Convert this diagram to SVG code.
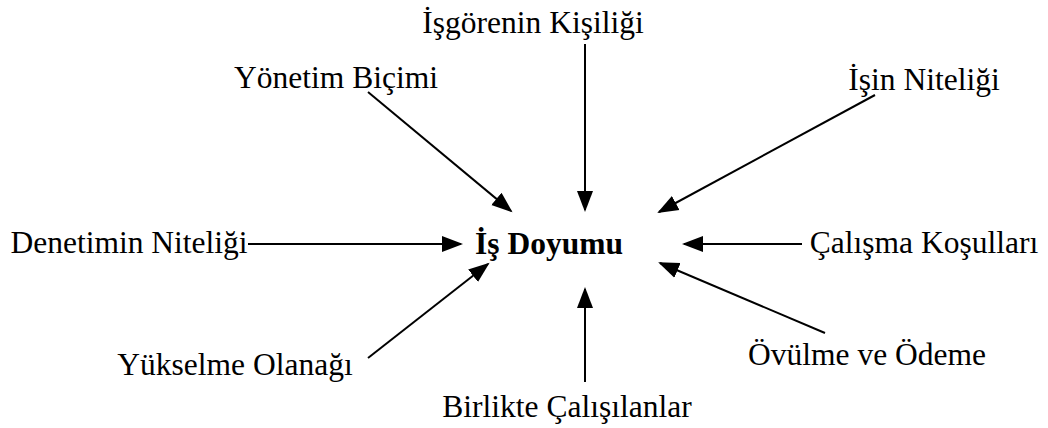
<svg xmlns="http://www.w3.org/2000/svg" width="1048" height="428" viewBox="0 0 1048 428">
<style>
.t{font-family:"Liberation Serif","Times New Roman",serif;font-size:31.5px;fill:#000}
.c{font-weight:bold}
.e{stroke:#000;stroke-width:2;fill:none;marker-end:url(#ah)}
</style>
<defs>
<marker id="ah" markerUnits="userSpaceOnUse" markerWidth="24" markerHeight="20" viewBox="0 0 24 20" refX="19" refY="10" orient="auto">
<path d="M0,2 L21,10 L0,18 Z" fill="#000"/>
</marker>
</defs>
<rect width="1048" height="428" fill="#fff"/>
<g id="connectors">
<line class="e" x1="585" y1="44" x2="585" y2="210"/>
<line class="e" x1="368" y1="92" x2="511" y2="211"/>
<line class="e" x1="875" y1="95" x2="659" y2="212"/>
<line class="e" x1="248" y1="244" x2="461" y2="244"/>
<line class="e" x1="802" y1="244" x2="684" y2="244"/>
<line class="e" x1="368" y1="358" x2="488" y2="264"/>
<line class="e" x1="825" y1="333" x2="660" y2="263"/>
<line class="e" x1="585" y1="382" x2="585" y2="289"/>
</g>
<g id="center"><text class="t c" x="549" y="254" text-anchor="middle">İş Doyumu</text></g>
<g id="n-kisilik"><text class="t" x="533" y="33" text-anchor="middle">İşgörenin Kişiliği</text></g>
<g id="n-yonetim"><text class="t" x="336" y="88" text-anchor="middle">Yönetim Biçimi</text></g>
<g id="n-isin"><text class="t" x="924" y="90" text-anchor="middle">İşin Niteliği</text></g>
<g id="n-denetim"><text class="t" x="129" y="253" text-anchor="middle">Denetimin Niteliği</text></g>
<g id="n-calisma"><text class="t" x="924" y="253" text-anchor="middle">Çalışma Koşulları</text></g>
<g id="n-yukselme"><text class="t" x="235" y="375" text-anchor="middle">Yükselme Olanağı</text></g>
<g id="n-ovulme"><text class="t" x="867" y="365" text-anchor="middle">Övülme ve Ödeme</text></g>
<g id="n-birlikte"><text class="t" x="567" y="417" text-anchor="middle">Birlikte Çalışılanlar</text></g>
</svg>
